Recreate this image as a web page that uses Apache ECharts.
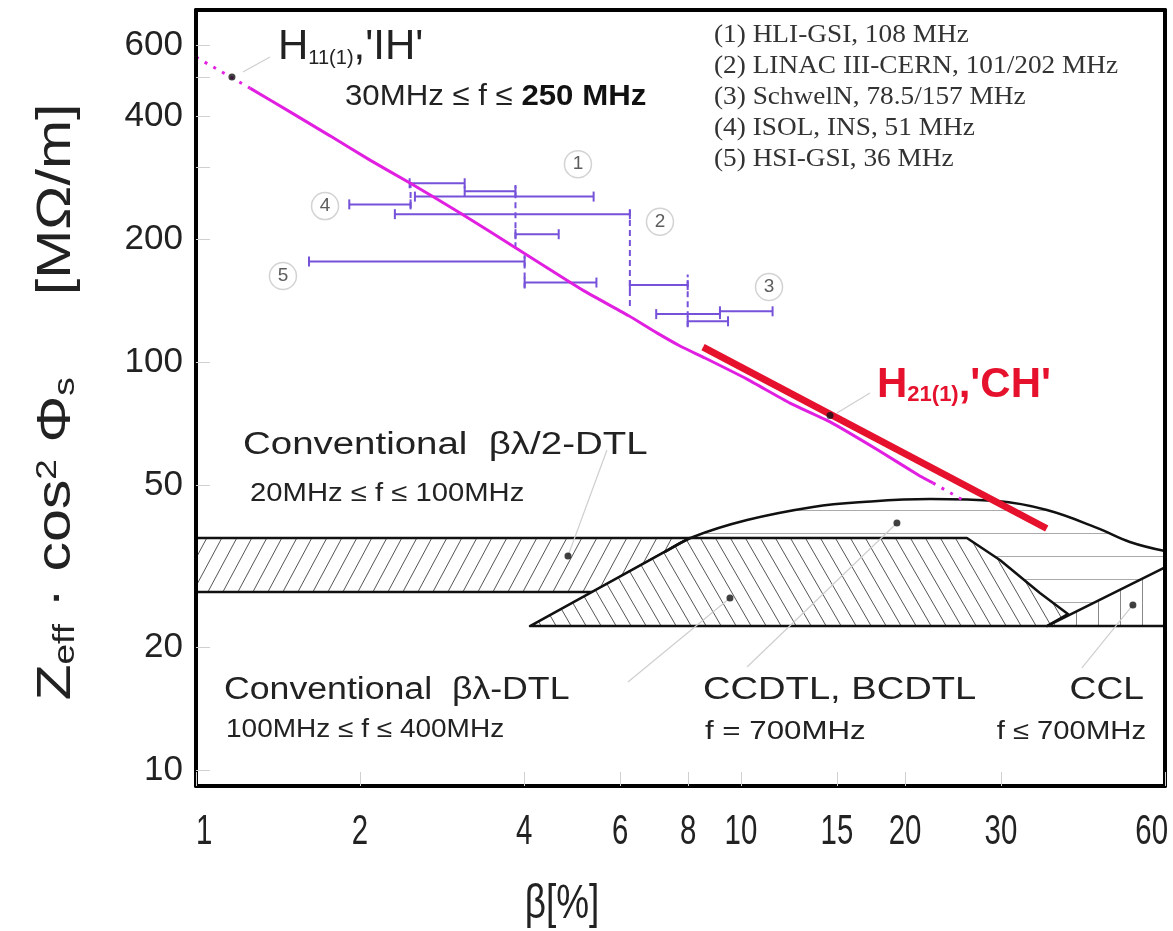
<!DOCTYPE html>
<html>
<head>
<meta charset="utf-8">
<script src="https://cdn.jsdelivr.net/npm/echarts@6/dist/echarts.min.js"></script>
<style>
  html, body { margin: 0; padding: 0; background: #fff; overflow: hidden; }
  #chart { width: 1173px; height: 931px; }
</style>
</head>
<body>
<div id="chart"></div>
<script>
// ---- axes ----
const xTicks = [1, 2, 4, 6, 8, 10, 15, 20, 30, 60];
const yTicks = [10, 20, 50, 100, 200, 400, 600];
const yTickMarks = [10, 20, 50, 100, 200, 300, 400, 500, 600];

// ---- H11(1) 'IH' line (magenta) ----
const ihBeta = [1.256, 1.488, 1.762, 2.086, 2.470, 3.058, 3.876, 5.134, 6.225, 7.011, 7.731, 8.590, 10.26, 12.30, 14.57, 17.99, 21.30, 22.50];
const ihZ = [470, 411, 359, 313, 275, 232, 190, 150, 130, 118, 109.6, 102.4, 90.9, 79.4, 71.4, 60.5, 52.6, 50.6];
const ihStartBeta = [1, 1.256];
const ihStartZ = [560, 470];
const ihEndBeta = [22.5, 25.55];
const ihEndZ = [50.6, 45.9];

// ---- H21(1) 'CH' line (red) ----
const chBeta = [8.52, 36.4];
const chZ = [108.9, 39.1];

// ---- existing linacs: tank ranges ----
const barLo = [2.466, 3.112, 2.522, 1.911, 2.317, 3.857, 1.612, 4.009, 6.254, 6.990, 9.151, 7.985];
const barHi = [3.112, 3.857, 5.366, 2.476, 6.254, 4.630, 4.009, 5.430, 7.985, 9.151, 11.43, 9.469];
const barZ = [274.7, 262.4, 254.8, 243.8, 230.7, 206.0, 176.6, 156.8, 154.6, 131.2, 133.3, 126.0];
const dashBeta = [3.857, 6.254, 7.985, 2.476, 4.009];
const dashZLo = [190.3, 137.3, 121.9, 238.9, 151.6];
const dashZHi = [271.9, 241.4, 164.1, 280.2, 182.9];
const circBeta = [5.022, 7.102, 11.26, 1.725, 1.444];
const circZ = [306, 221, 153, 241.5, 162.7];
const circLabel = ['1', '2', '3', '4', '5'];
const legendLines = ['(1) HLI-GSI, 108 MHz', '(2) LINAC III-CERN, 101/202 MHz', '(3) SchwelN, 78.5/157 MHz', '(4) ISOL, INS, 51 MHz', '(5) HSI-GSI, 36 MHz'];

// ---- regions ----
const bandBeta = [1, 8.063, 5.351, 1];
const bandZ = [37.07, 37.07, 27.32, 27.32];
const ccdtlBeta = [4.101, 8.063, 25.98, 29.87, 35.37, 39.81, 36.43];
const ccdtlZ = [22.54, 37.07, 37.07, 32.73, 27.16, 24.13, 22.54];
const cclBeta = [36.43, 60, 60];
const cclZ = [22.54, 31.4, 22.54];
const domeBeta = [7.254, 8.166, 10.26, 13.56, 16.74, 22.23, 29.49, 36.43, 45.0, 51.73, 60];
const domeZ = [34.24, 37.28, 41.02, 44.16, 45.42, 46.19, 45.66, 43.41, 39.25, 36.24, 34.43];
const floorZ = 22.54;

// ---- marker dots and leader lines ----
const dotBeta = [1.164, 14.57, 4.815, 9.546, 19.33, 52.39];
const dotZ = [500.4, 74.0, 33.48, 26.42, 40.33, 25.39];
const leadBetaA = [1.219, 15.0, 5.677, 6.204, 10.26, 42.24];
const leadZA = [514.8, 75.1, 60.9, 16.44, 17.89, 17.79];
const leadBetaB = [1.367, 17.25, 4.815, 9.546, 19.33, 52.39];
const leadZB = [560.2, 84.0, 33.48, 26.42, 40.33, 25.39];

const SANS = "'Liberation Sans', Arial, Helvetica, sans-serif";
const SERIF = "'Liberation Serif', 'Times New Roman', serif";
const PURPLE = '#7651d9';
const MAGENTA = '#e11fe1';
const RED = '#e5112d';
const INK = '#222';

// hatch fills
function makePattern(w, h, stroke, draw) {
  const c = document.createElement('canvas');
  c.width = w; c.height = h;
  const g = c.getContext('2d');
  g.fillStyle = '#fff';
  g.fillRect(0, 0, w, h);
  g.strokeStyle = stroke;
  g.lineWidth = 1;
  g.beginPath();
  draw(g, w, h);
  g.stroke();
  return { image: c, repeat: 'repeat' };
}
const slashFill = makePattern(15, 28, '#555', (g, w, h) => {
  [-w, 0, w].forEach(dx => { g.moveTo(dx, h); g.lineTo(dx + w, 0); });
});
const backFill = makePattern(15, 26, '#555', (g, w, h) => {
  [-w, 0, w].forEach(dx => { g.moveTo(dx, 0); g.lineTo(dx + w, h); });
});
const vertFill = makePattern(22, 10, '#888', (g, w, h) => { g.moveTo(20.5, 0); g.lineTo(20.5, h); });
const horizFill = makePattern(10, 23, '#aaa', (g, w, h) => { g.moveTo(0, 4.5); g.lineTo(w, 4.5); });

function regionSeries(betas, zs, fill, stroke, z) {
  return {
    type: 'custom', silent: true, z: z,
    data: betas.map((b, i) => [b, zs[i]]),
    renderItem: (params, api) => {
      if (params.dataIndex !== 0) return null;
      return {
        type: 'polygon',
        shape: { points: betas.map((b, i) => api.coord([b, zs[i]])) },
        style: { fill: fill, stroke: stroke, lineWidth: 2.5, lineJoin: 'round' }
      };
    }
  };
}

function pairs(xs, ys) { return xs.map((x, i) => [x, ys[i]]); }

function label(x, y, text, size, scaleX, extra) {
  return {
    type: 'text', x: x, y: y, z: 30, scaleX: scaleX,
    style: Object.assign({ text: text, fontSize: size, fontFamily: SANS, fill: INK, verticalAlign: 'middle' }, extra || {})
  };
}

const chart = echarts.init(document.getElementById('chart'), null, { width: 1173, height: 931 });

const option = {
  animation: false,
  backgroundColor: '#fff',
  grid: { left: 196, right: 8, top: 10, bottom: 145, show: true, backgroundColor: '#fff', borderWidth: 0 },
  xAxis: [
    {
      type: 'log', min: 1, max: 60, position: 'bottom', z: 20,
      axisLine: { show: true, lineStyle: { color: '#000', width: 4 } },
      axisTick: { show: true, inside: true, length: 14, customValues: xTicks, lineStyle: { color: '#d0d0d0' } },
      axisLabel: { show: false },
      splitLine: { show: false }
    },
    {
      type: 'log', min: 1, max: 60, position: 'top', z: 20,
      axisLine: { show: true, lineStyle: { color: '#000', width: 4 } },
      axisTick: { show: false }, axisLabel: { show: false }, splitLine: { show: false }
    }
  ],
  yAxis: [
    {
      type: 'log', min: 9.137, max: 730.6, position: 'left', z: 20,
      axisLine: { show: true, lineStyle: { color: '#000', width: 4 } },
      axisTick: { show: true, inside: true, length: 14, customValues: yTickMarks, lineStyle: { color: '#d0d0d0' } },
      axisLabel: { customValues: yTicks, margin: 13, fontSize: 35, fontFamily: SANS, color: INK, formatter: v => String(Math.round(v)) },
      splitLine: { show: false }
    },
    {
      type: 'log', min: 9.137, max: 730.6, position: 'right', z: 20,
      axisLine: { show: true, lineStyle: { color: '#000', width: 4 } },
      axisTick: { show: false }, axisLabel: { show: false }, splitLine: { show: false }
    }
  ],
  series: [
    // outer domain with horizontal hatch
    regionSeries(domeBeta.concat([60, domeBeta[0]]), domeZ.concat([floorZ, floorZ]), horizFill, null, 1),
    regionSeries(bandBeta, bandZ, slashFill, '#111', 2),
    regionSeries(ccdtlBeta, ccdtlZ, backFill, '#111', 3),
    regionSeries(cclBeta, cclZ, vertFill, '#111', 3),
    {
      type: 'line', z: 4, silent: true, smooth: 0.4, showSymbol: false,
      data: pairs(domeBeta, domeZ),
      lineStyle: { color: '#111', width: 2.5 }
    },
    {
      // leader lines from labels to the marker dots
      type: 'custom', z: 5, silent: true, encode: { x: [0, 2], y: [1, 3] },
      data: leadBetaA.map((b, i) => [b, leadZA[i], leadBetaB[i], leadZB[i]]),
      renderItem: (params, api) => {
        const a = api.coord([api.value(0), api.value(1)]);
        const b = api.coord([api.value(2), api.value(3)]);
        return { type: 'line', shape: { x1: a[0], y1: a[1], x2: b[0], y2: b[1] }, style: { stroke: '#cfcfcf', lineWidth: 1.2 } };
      }
    },
    {
      type: 'line', z: 6, silent: true, showSymbol: false, smooth: 0.15,
      data: pairs(ihBeta, ihZ),
      lineStyle: { color: MAGENTA, width: 3 }
    },
    {
      type: 'line', z: 6, silent: true, showSymbol: false,
      data: pairs(ihStartBeta, ihStartZ),
      lineStyle: { color: MAGENTA, width: 3, type: [3, 7] }
    },
    {
      type: 'line', z: 6, silent: true, showSymbol: false,
      data: pairs(ihEndBeta, ihEndZ),
      lineStyle: { color: MAGENTA, width: 3, type: [3, 7] }
    },
    {
      type: 'line', z: 7, silent: true, showSymbol: false,
      data: pairs(chBeta, chZ),
      lineStyle: { color: RED, width: 7, cap: 'butt' }
    },
    {
      // tank ranges with end caps
      type: 'custom', z: 6, silent: true, encode: { x: [0, 1], y: 2 },
      data: barLo.map((lo, i) => [lo, barHi[i], barZ[i]]),
      renderItem: (params, api) => {
        const a = api.coord([api.value(0), api.value(2)]);
        const b = api.coord([api.value(1), api.value(2)]);
        const st = { stroke: PURPLE, lineWidth: 2 };
        return {
          type: 'group', children: [
            { type: 'line', shape: { x1: a[0], y1: a[1], x2: b[0], y2: b[1] }, style: st },
            { type: 'line', shape: { x1: a[0], y1: a[1] - 5, x2: a[0], y2: a[1] + 5 }, style: st },
            { type: 'line', shape: { x1: b[0], y1: b[1] - 5, x2: b[0], y2: b[1] + 5 }, style: st }
          ]
        };
      }
    },
    {
      type: 'custom', z: 6, silent: true, encode: { x: 0, y: [1, 2] },
      data: dashBeta.map((b, i) => [b, dashZLo[i], dashZHi[i]]),
      renderItem: (params, api) => {
        const a = api.coord([api.value(0), api.value(1)]);
        const b = api.coord([api.value(0), api.value(2)]);
        return { type: 'line', shape: { x1: a[0], y1: a[1], x2: b[0], y2: b[1] }, style: { stroke: PURPLE, lineWidth: 2, lineDash: [6, 4] } };
      }
    },
    {
      type: 'scatter', z: 8, silent: true, symbol: 'circle', symbolSize: 27,
      data: circBeta.map((b, i) => [b, circZ[i], circLabel[i]]),
      itemStyle: { color: '#fff', borderColor: '#c8c8c8', borderWidth: 1.5 },
      label: { show: true, position: 'inside', formatter: p => p.value[2], fontSize: 19, fontFamily: SANS, color: '#333' }
    },
    {
      type: 'scatter', z: 9, silent: true, symbol: 'circle', symbolSize: 7,
      data: pairs(dotBeta, dotZ),
      itemStyle: { color: '#111' }
    }
  ]
};

chart.setOption(option);

// narrow x tick labels, placed through the x axis scale
const xLabelEls = xTicks.map((v, i) => {
  const px = chart.convertToPixel({ xAxisIndex: 0 }, v);
  const last = i === xTicks.length - 1;
  const first = i === 0;
  return label(last ? px + 3 : px, 832, String(v), 42, 0.7,
    { align: first ? 'left' : (last ? 'right' : 'center') });
});

const annotations = [
  {
    type: 'text', x: 278, y: 47, z: 30,
    style: {
      text: "{a|H}{s|11(1)}{a|,'IH'}", verticalAlign: 'middle',
      rich: {
        a: { fontSize: 42, lineHeight: 42, verticalAlign: 'bottom', fontFamily: SANS, fill: INK },
        s: { fontSize: 20, lineHeight: 12, verticalAlign: 'bottom', fontFamily: SANS, fill: INK }
      }
    }
  },
  {
    type: 'text', x: 345, y: 97, z: 30, scaleX: 1.04,
    style: {
      text: '{n|30MHz ≤ f ≤ }{b|250 MHz}', verticalAlign: 'middle',
      rich: {
        n: { fontSize: 30, fontFamily: SANS, fill: INK },
        b: { fontSize: 30, fontFamily: SANS, fontWeight: 'bold', fill: '#111' }
      }
    }
  },
  {
    type: 'text', x: 714, y: 20, z: 30, scaleX: 1.05,
    style: { text: legendLines.join('\n'), fontSize: 26, lineHeight: 31, fontFamily: SERIF, fill: '#333', verticalAlign: 'top' }
  },
  {
    type: 'text', x: 877, y: 385, z: 30,
    style: {
      text: "{a|H}{s|21(1)}{a|,'CH'}", verticalAlign: 'middle',
      rich: {
        a: { fontSize: 42, lineHeight: 42, verticalAlign: 'bottom', fontFamily: SANS, fontWeight: 'bold', fill: RED },
        s: { fontSize: 22, lineHeight: 12, verticalAlign: 'bottom', fontFamily: SANS, fontWeight: 'bold', fill: RED }
      }
    }
  },
  label(243, 445, 'Conventional  βλ/2-DTL', 31, 1.24),
  label(250, 494, '20MHz ≤ f ≤ 100MHz', 25, 1.17),
  label(224, 690, 'Conventional  βλ-DTL', 31, 1.15),
  label(226, 730, '100MHz ≤ f ≤ 400MHz', 25, 1.12),
  label(703, 690, 'CCDTL, BCDTL', 31, 1.23),
  label(705, 732, 'f = 700MHz', 25, 1.25),
  label(1144, 690, 'CCL', 31, 1.2, { align: 'right' }),
  label(1146, 732, 'f ≤ 700MHz', 25, 1.17, { align: 'right' }),
  label(562, 905, 'β[%]', 48, 0.77, { align: 'center' }),
  {
    type: 'text', x: 57, y: 402, z: 30, rotation: Math.PI / 2, scaleX: 1.23,
    style: {
      text: '{m|Z}{sb|eff}{m| · cos}{sp|2}{m| Φ}{sb|s}{m|     [MΩ/m]}',
      align: 'center', verticalAlign: 'middle',
      rich: {
        m: { fontSize: 48, lineHeight: 48, verticalAlign: 'bottom', fontFamily: SANS, fill: INK },
        sb: { fontSize: 30, lineHeight: 14, verticalAlign: 'bottom', fontFamily: SANS, fill: INK },
        sp: { fontSize: 30, lineHeight: 16, verticalAlign: 'top', fontFamily: SANS, fill: INK }
      }
    }
  }
];

chart.setOption({ graphic: annotations.concat(xLabelEls) });
</script>
</body>
</html>
